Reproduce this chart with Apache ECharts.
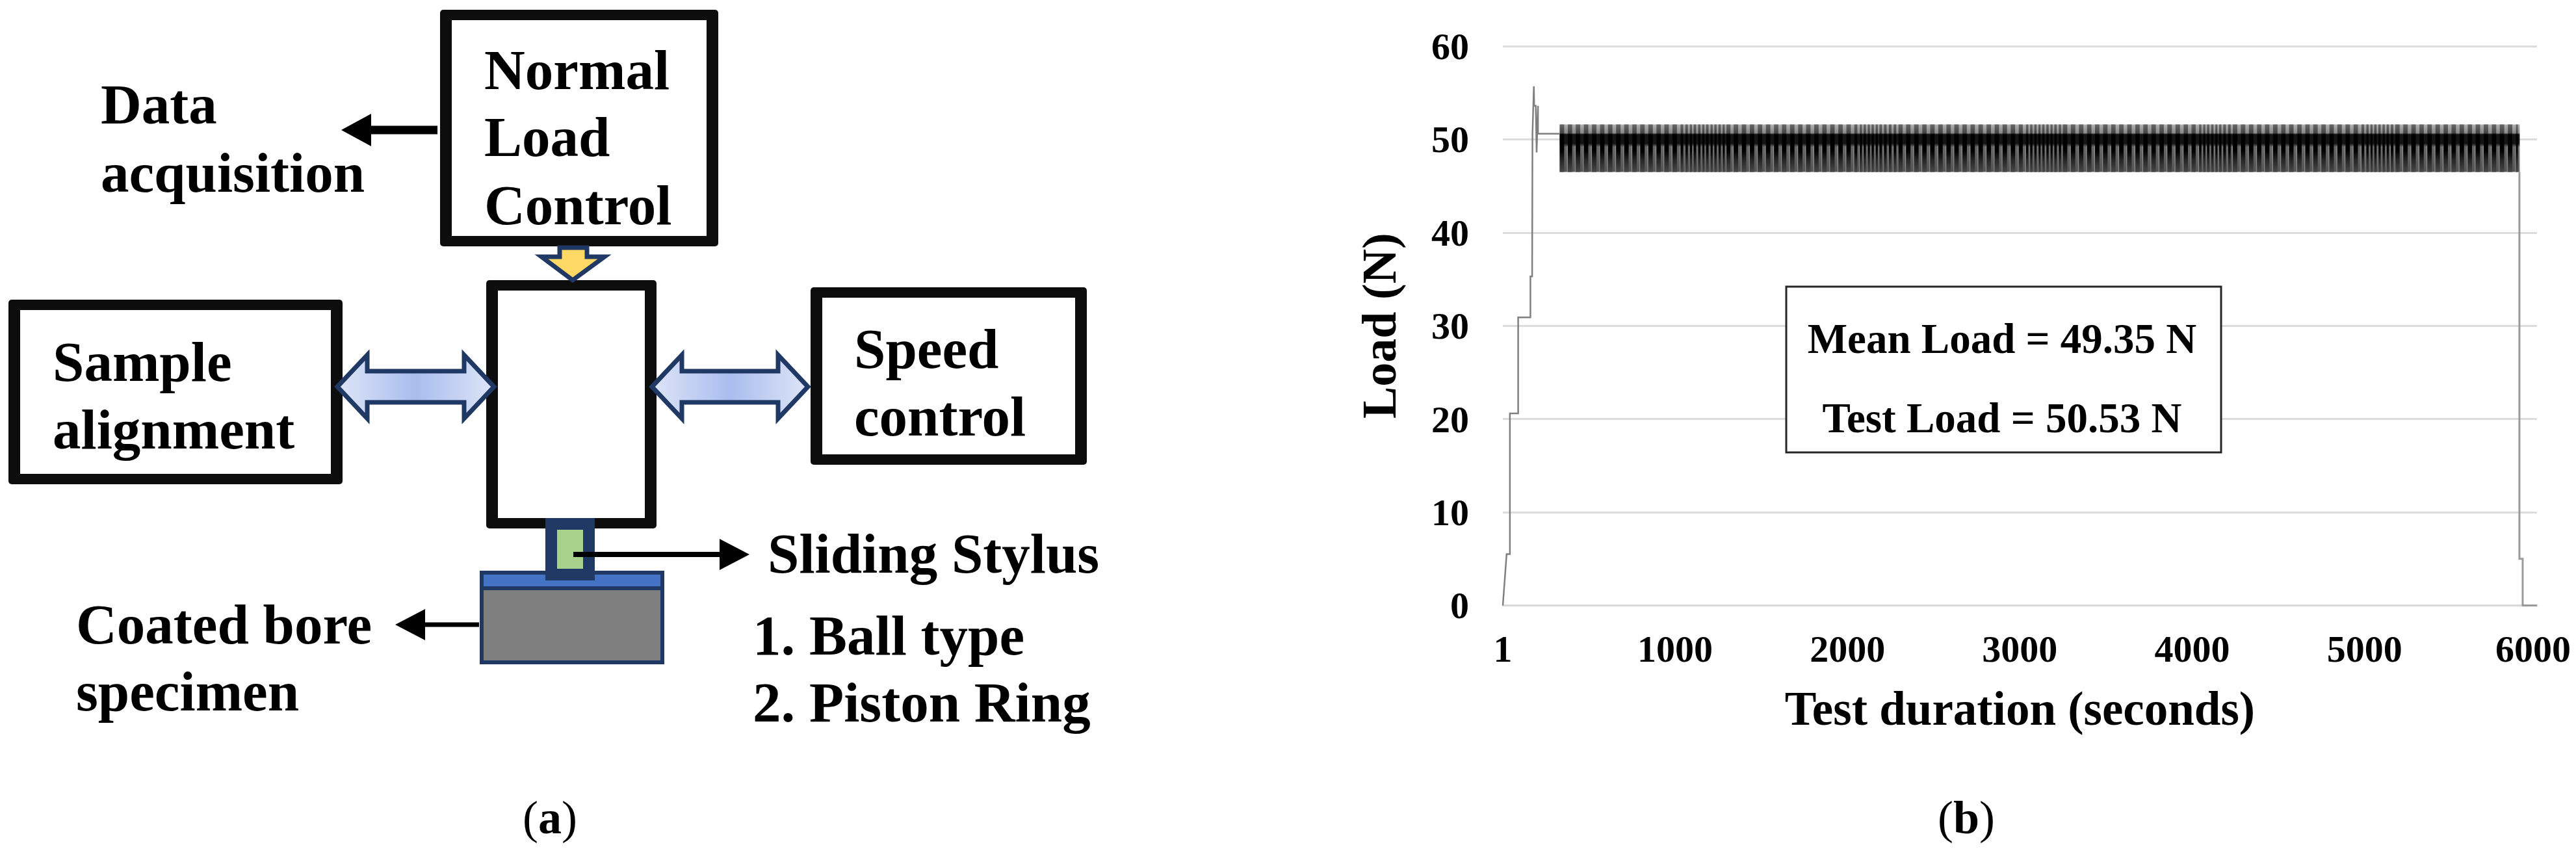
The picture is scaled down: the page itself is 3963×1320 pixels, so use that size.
<!DOCTYPE html>
<html>
<head>
<meta charset="utf-8">
<style>html,body{margin:0;padding:0;background:#fff}#c{width:3963px;height:1320px}</style>
<script src="https://cdn.jsdelivr.net/npm/echarts@6/dist/echarts.min.js"></script>
</head>
<body>
<div id="c"></div>
<script>
// ---------- data ----------
const yTickValues = [0, 10, 20, 30, 40, 50, 60];
const xTickValues = [1, 1000, 2000, 3000, 4000, 5000, 6000];
const xAxisTitle = 'Test duration (seconds)';
const yAxisTitle = 'Load (N)';
const noteLines = ['Mean Load = 49.35 N', 'Test Load = 50.53 N'];

// load-up trace (seconds, newtons)
const rampTimes = [1, 6, 23, 42, 42, 90, 90, 161, 161, 171, 173, 178, 181, 183, 192, 197, 203, 205, 205, 212, 331];
const rampLoads = [0, 0, 5.5, 5.5, 20.6, 20.6, 30.9, 30.9, 35.3, 35.3, 50.6, 50.6, 55.7, 53.6, 53.6, 48.6, 48.6, 53.6, 50.6, 50.6, 50.6];
// unloading trace
const dropTimes = [5898, 5898, 5917, 5917, 6000];
const dropLoads = [46.5, 5.0, 5.0, 0, 0];

// oscillation band: start time of each visible tooth, and its peak / trough
const toothTimes = [
  331, 378, 424, 471, 518, 565, 611, 658, 705, 752, 798, 845, 892, 938, 985, 1032,
  1060, 1086, 1108, 1134, 1158, 1180, 1206, 1228, 1252, 1276, 1298,
  1340, 1387, 1434, 1480, 1527, 1574, 1620, 1667, 1714, 1760, 1807, 1854, 1900, 1947, 1994, 2040,
  2072, 2094, 2118, 2140, 2164, 2186, 2212, 2240, 2268, 2296,
  2340, 2387, 2434, 2480, 2527, 2574, 2620, 2667, 2714, 2760, 2807, 2854, 2900, 2947, 2994,
  3036, 3060, 3084, 3108, 3130, 3154, 3178, 3200, 3226, 3250,
  3296, 3343, 3390, 3436, 3483, 3530, 3576, 3623, 3670, 3716, 3763, 3810, 3856, 3903, 3950, 3996,
  4040, 4064, 4086, 4110, 4134, 4156, 4180, 4208, 4236,
  4282, 4329, 4376, 4422, 4469, 4516, 4562, 4609, 4656, 4702, 4749, 4796, 4842, 4889, 4936, 4982,
  5010, 5034, 5056, 5080, 5104, 5128, 5152, 5178,
  5224, 5271, 5318, 5364, 5411, 5458, 5504, 5551, 5598, 5644, 5691, 5738, 5784, 5831, 5878, 5898
];
const bandPeak = 51.6;
const bandTrough = 46.5;

// ---------- diagram text (a) ----------
const diagramLabels = [
  ['Normal', 745, 115], ['Load', 745, 218], ['Control', 745, 323],
  ['Data', 155, 168], ['acquisition', 155, 273],
  ['Sample', 81, 564], ['alignment', 81, 668],
  ['Speed', 1314, 544], ['control', 1314, 648],
  ['Sliding Stylus', 1181, 859],
  ['1. Ball type', 1158, 985], ['2. Piston Ring', 1158, 1088],
  ['Coated bore', 117, 968], ['specimen', 117, 1071]
];

// ---------- helpers ----------
const SERIF = '"Liberation Serif", serif';
const NAVY = '#1f3864';
const INK = '#0d0d0d';

function rect(x0, y0, x1, y1, fill, z, stroke, lw, r) {
  return { type: 'rect', z: z || 10, silent: true,
    shape: { x: x0, y: y0, width: x1 - x0, height: y1 - y0, r: r || 0 },
    style: { fill: fill, stroke: stroke || null, lineWidth: lw || 0 } };
}
function frame(x0, y0, x1, y1) {
  return [rect(x0, y0, x1, y1, INK, 10, null, 0, 5), rect(x0 + 18, y0 + 16, x1 - 18, y1 - 16, '#fff', 11)];
}
function poly(points, fill, z, stroke, lw) {
  return { type: 'polygon', z: z || 12, silent: true, shape: { points: points },
    style: { fill: fill, stroke: stroke || null, lineWidth: lw || 0, lineJoin: 'miter' } };
}
function label(text, x, y, size, align, z, rich) {
  return { type: 'text', z: z || 20, silent: true, x: x, y: y,
    style: { text: text, font: 'bold ' + size + 'px ' + SERIF, fill: '#000',
      align: align || 'left', verticalAlign: 'middle', rich: rich } };
}
function blackArrowLeft(xTip, xTail, y, headLen, headHalf, thick) {
  return poly([[xTip, y], [xTip + headLen, y - headHalf], [xTip + headLen, y - thick / 2], [xTail, y - thick / 2],
    [xTail, y + thick / 2], [xTip + headLen, y + thick / 2], [xTip + headLen, y + headHalf]], '#000', 14);
}
function doubleArrow(x0, x1, y) {
  const hl = 46, hh = 49, sh = 24;
  const grad = new echarts.graphic.LinearGradient(0, 0, 1, 0, [
    { offset: 0, color: '#dfe6f7' }, { offset: 0.5, color: '#a9bdee' }, { offset: 1, color: '#dfe6f7' }]);
  return poly([[x0, y], [x0 + hl, y - hh], [x0 + hl, y - sh], [x1 - hl, y - sh], [x1 - hl, y - hh], [x1, y],
    [x1 - hl, y + hh], [x1 - hl, y + sh], [x0 + hl, y + sh], [x0 + hl, y + hh]], grad, 13, NAVY, 7);
}

const diagram = [].concat(
  frame(677, 15, 1105, 379),
  frame(748, 431, 1010, 813),
  frame(13, 461, 527, 745),
  frame(1247, 442, 1672, 715),
  [
    poly([[861, 381], [903, 381], [903, 395], [930, 395], [881, 431], [833, 395], [861, 395]], '#ffd966', 13, NAVY, 7),
    doubleArrow(519, 760, 595),
    doubleArrow(1003, 1243, 595),
    rect(741, 881, 1019, 1019, '#7f7f7f', 12, NAVY, 6),
    rect(741, 881, 1019, 905, '#4472c4', 13, NAVY, 6),
    rect(848, 806, 906, 884, '#a9d18e', 14, NAVY, 18),
    blackArrowLeft(525, 673, 200, 46, 25, 13),
    blackArrowLeft(608, 737, 961, 46, 24, 7),
    poly([[1153, 853], [1107, 829], [1107, 849], [882, 849], [882, 857], [1107, 857], [1107, 877]], '#000', 15)
  ],
  diagramLabels.map(l => label(l[0], l[1], l[2], 87)),
  [
    label('({b|a})', 846, 1263, 72, 'center', 20, { b: { font: 'bold 72px ' + SERIF, fill: '#000' } }),
    label('({b|b})', 3025, 1263, 72, 'center', 20, { b: { font: 'bold 72px ' + SERIF, fill: '#000' } }),
    rect(2748, 441, 3417, 696, '#fff', 30, '#262626', 3),
    label(noteLines[0], 3080, 526, 65, 'center', 31),
    label(noteLines[1], 3080, 648, 65, 'center', 31)
  ]
);
// parentheses of the panel letters are regular weight
diagram.forEach(e => { if (e.style && e.style.rich) e.style.font = '72px ' + SERIF; });

// ---------- band drawing through the axes ----------
const backFill = new echarts.graphic.LinearGradient(0, 0, 0, 1, [
  { offset: 0, color: '#b0b0b0' }, { offset: 0.18, color: '#888' }, { offset: 0.21, color: '#141414' },
  { offset: 0.40, color: '#141414' }, { offset: 0.47, color: '#646464' }, { offset: 1, color: '#545454' }]);
const darkFill = new echarts.graphic.LinearGradient(0, 0, 0, 1, [
  { offset: 0, color: '#666' }, { offset: 0.18, color: '#444' }, { offset: 0.21, color: '#000' },
  { offset: 0.55, color: '#000' }, { offset: 0.75, color: '#262626' }, { offset: 1, color: '#484848' }]);

const bandData = toothTimes.slice(0, -1).map((t, i) => [t, toothTimes[i + 1], bandPeak, bandTrough]);

function renderTooth(params, api) {
  const tl = api.coord([api.value(0), api.value(2)]);
  const br = api.coord([api.value(1), api.value(3)]);
  const w = br[0] - tl[0], h = br[1] - tl[1];
  const light = Math.min(1.5, w * 0.15);
  return { type: 'group', children: [
    { type: 'rect', shape: { x: tl[0], y: tl[1], width: w + 0.5, height: h }, style: { fill: backFill } },
    { type: 'rect', shape: { x: tl[0], y: tl[1], width: w * 0.55, height: h }, style: { fill: darkFill } },
    { type: 'rect', shape: { x: tl[0] + w - light, y: tl[1] + h * 0.45, width: light, height: h * 0.55 },
      style: { fill: 'rgba(190,190,190,0.45)' } }
  ] };
}

const zip = (a, b) => a.map((v, i) => [v, b[i]]);
const axisFont = { fontFamily: SERIF, fontWeight: 'bold', color: '#000' };

const chart = echarts.init(document.getElementById('c'), null, { renderer: 'canvas' });
chart.setOption({
  animation: false,
  backgroundColor: '#fff',
  grid: { left: 2312, right: 60, top: 71, bottom: 388.5 },
  xAxis: {
    type: 'value', min: 1, max: 6000,
    name: xAxisTitle, nameLocation: 'middle', nameGap: 128,
    nameTextStyle: Object.assign({ fontSize: 73 }, axisFont),
    axisLine: { show: true, onZero: false, lineStyle: { color: '#d9d9d9', width: 3 } },
    axisTick: { show: false },
    splitLine: { show: false },
    axisLabel: Object.assign({
      customValues: xTickValues, fontSize: 58, margin: 43, showMinLabel: true, showMaxLabel: true,
      formatter: v => v === 6000 ? '{last|6000}' : String(v),
      rich: { last: Object.assign({ fontSize: 58, padding: [0, 12, 0, 0] }, axisFont) }
    }, axisFont)
  },
  yAxis: {
    type: 'value', min: 0, max: 60, interval: 10,
    name: yAxisTitle, nameLocation: 'middle', nameGap: 147, nameRotate: 90,
    nameTextStyle: Object.assign({ fontSize: 74 }, axisFont),
    axisLine: { show: false }, axisTick: { show: false },
    splitLine: { show: true, lineStyle: { color: '#dcdcdc', width: 3 } },
    axisLabel: Object.assign({
      customValues: yTickValues, fontSize: 58, margin: 52,
      formatter: v => '{n|' + v + '}',
      rich: { n: Object.assign({ fontSize: 58, padding: [10, 0, 0, 0] }, axisFont) }
    }, axisFont)
  },
  series: [
    { type: 'custom', name: 'Load band', data: bandData, renderItem: renderTooth, silent: true, z: 3,
      encode: { x: [0, 1], y: [2, 3] } },
    { type: 'line', name: 'Load ramp', data: zip(rampTimes, rampLoads), showSymbol: false, silent: true, z: 4,
      lineStyle: { color: '#7f7f7f', width: 2.5, join: 'miter' } },
    { type: 'line', name: 'Load drop', data: zip(dropTimes, dropLoads), showSymbol: false, silent: true, z: 4,
      lineStyle: { color: '#9a9a9a', width: 3, join: 'miter' } }
  ],
  graphic: { elements: diagram }
});
</script>
</body>
</html>
